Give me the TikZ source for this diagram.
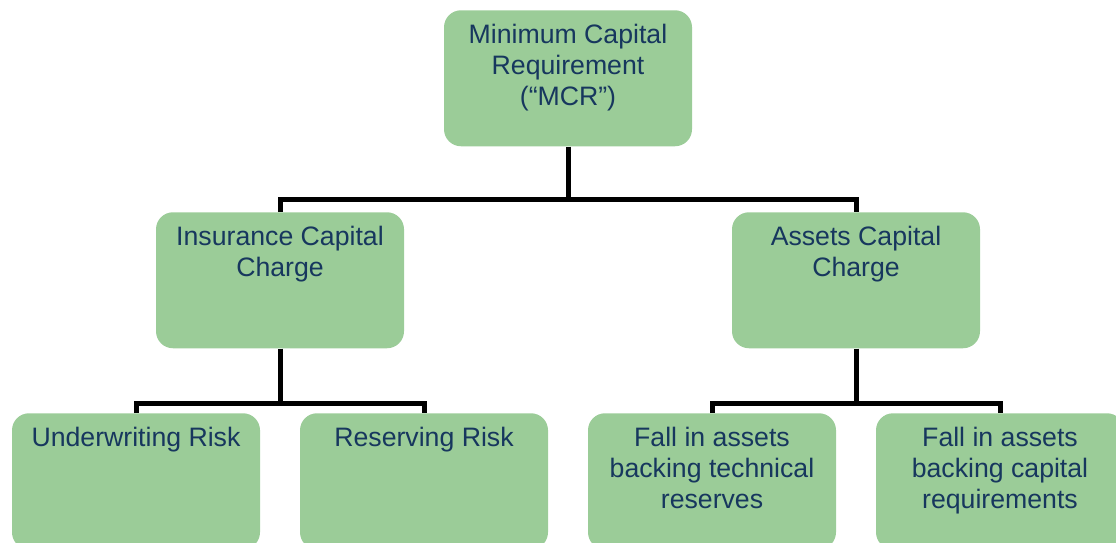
\documentclass[tikz,border=0pt]{standalone}
\usepackage{fontspec}
\setmainfont{Liberation Sans}
\usepackage{tikz}

\definecolor{boxgreen}{RGB}{155,204,152}
\definecolor{textnavy}{RGB}{23,55,94}

\tikzset{
  chargebox/.style={fill=boxgreen, rounded corners=12.75pt, anchor=north,
    inner xsep=0pt, inner ysep=10.5pt, text=textnavy,
    font=\fontsize{20}{23.25}\selectfont},
  link/.style={line width=3.75pt, black}
}
\newcommand{\boxlines}[1]{\parbox[t][81pt][t]{186pt}{\centering #1}}

\begin{document}
\begin{tikzpicture}[x=0.75pt, y=-0.75pt]

\useasboundingbox (0,0) rectangle (1116,542);

% top
\node[chargebox] (mcr) at (568,10) {\boxlines{Minimum Capital\\Requirement\\(``MCR'')}};

% middle row
\node[chargebox] (ins) at (280,212) {\boxlines{Insurance Capital\\Charge}};
\node[chargebox] (ast) at (856,212) {\boxlines{Assets Capital\\Charge}};

% bottom row
\node[chargebox] (uw) at (136,413) {\boxlines{Underwriting Risk}};
\node[chargebox] (res) at (424,413) {\boxlines{Reserving Risk}};
\node[chargebox] (tech) at (712,413) {\boxlines{Fall in assets\\backing technical\\reserves}};
\node[chargebox] (capreq) at (1000,413) {\boxlines{Fall in assets\\backing capital\\requirements}};

% connectors
\draw[link] (mcr.south) -- ++(0,53) coordinate (topsplit);
\draw[link] (ins.north) |- (topsplit) -| (ast.north);

\draw[link] (ins.south) -- ++(0,55) coordinate (inssplit);
\draw[link] (uw.north) |- (inssplit) -| (res.north);

\draw[link] (ast.south) -- ++(0,55) coordinate (astsplit);
\draw[link] (tech.north) |- (astsplit) -| (capreq.north);

\end{tikzpicture}
\end{document}
